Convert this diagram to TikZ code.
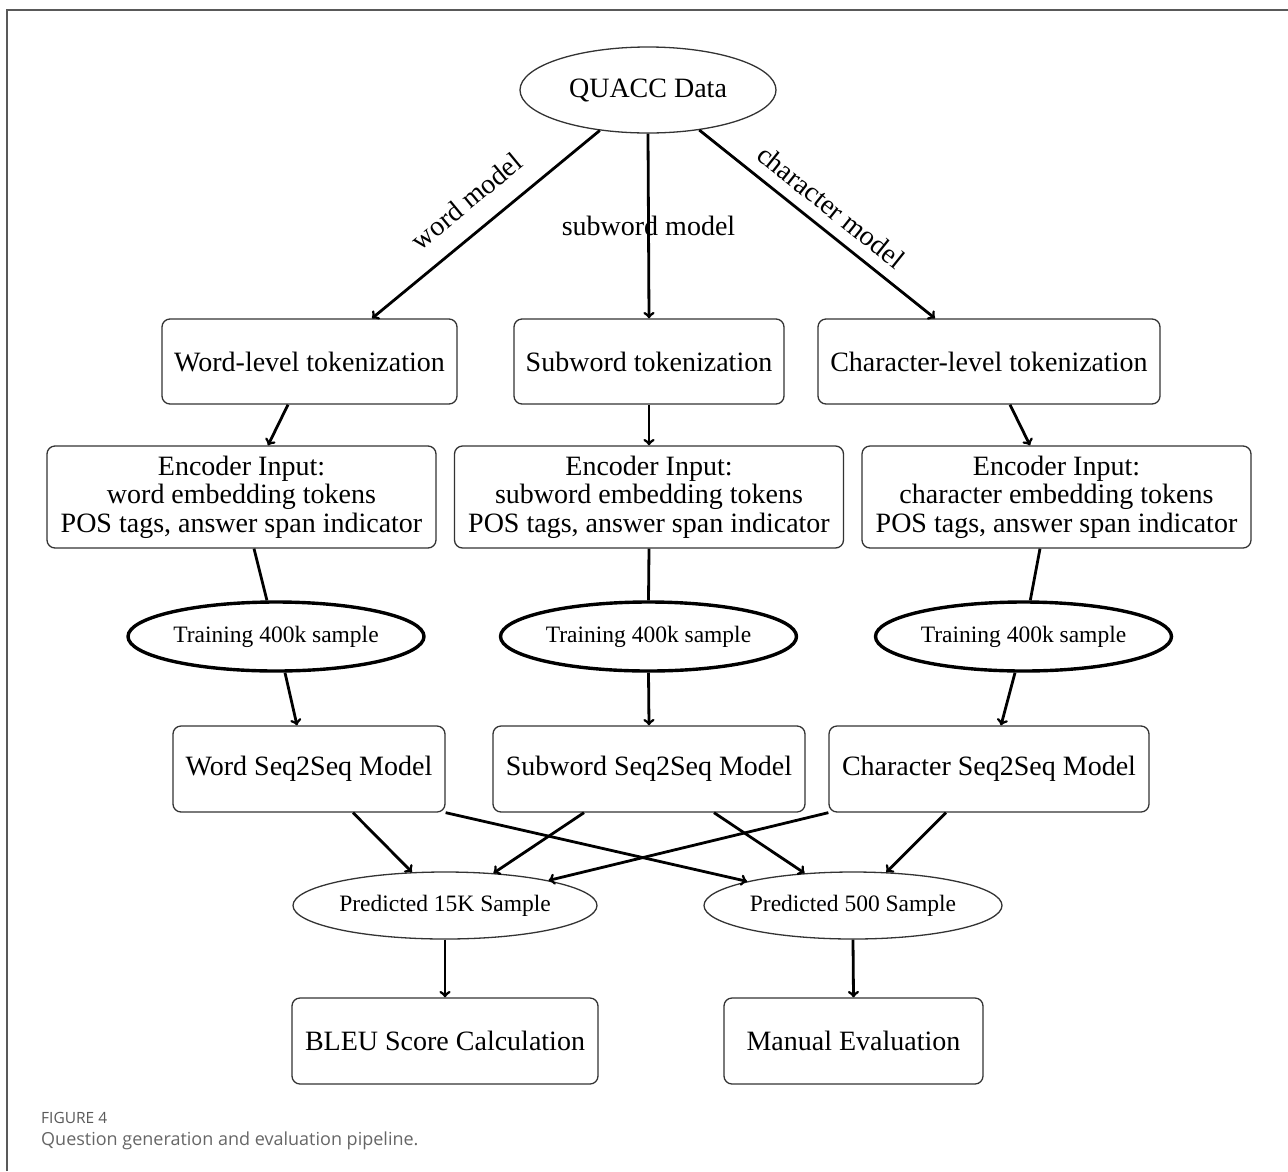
\documentclass[tikz,border=0pt]{standalone}
\usepackage{fontspec}
\setmainfont{Liberation Serif}
\newfontfamily\legendafont{Open Sans}
\usetikzlibrary{shapes.geometric}

\begin{document}
\begin{tikzpicture}[x=1pt, y=-1pt,
    caixa/.style={draw=black!80, line width=1.3pt, rounded corners=8pt, align=center, inner sep=2pt, minimum height=85pt, font=\fontsize{28}{28.5}\selectfont},
    elipse/.style={ellipse, draw=black!80, line width=1.3pt, inner sep=0pt, minimum height=67pt, font=\fontsize{23.5}{28}\selectfont},
    treino/.style={elipse, draw=black, line width=3.4pt, minimum width=296pt, minimum height=69pt},
    seta/.style={->, line width=2.8pt},
    liga/.style={line width=2.8pt},
    rotulo/.style={font=\fontsize{28}{30}\selectfont}
]
    \useasboundingbox (0,0) rectangle (1288,1171);

    % Moldura
    \draw[black!65, line width=1.4pt] (7,1171) -- (7,10) -- (1288,10);

    % Dados
    \node[elipse, minimum width=256pt, minimum height=86pt, font=\fontsize{28}{30}\selectfont] (quacc) at (648,90) {QUACC Data};

    % Tokenizacao
    \node[caixa, minimum width=295pt] (wordtok) at (309.5,361.5) {Word-level tokenization};
    \node[caixa, minimum width=270pt] (subtok) at (649,361.5) {Subword tokenization};
    \node[caixa, minimum width=342pt] (chartok) at (989,361.5) {Character-level tokenization};

    % Entrada do encoder
    \foreach \nome/\x/\tipo in {wordenc/241.5/word, subenc/649/subword, charenc/1056.5/character} {
        \node[caixa, minimum width=389pt, minimum height=102pt] (\nome) at (\x,497) {Encoder Input:\\\tipo\ embedding tokens\\POS tags, answer span indicator};
    }

    % Treinamento
    \foreach \nome/\x in {wordtrain/276, subtrain/648.5, chartrain/1023.5} {
        \node[treino] (\nome) at (\x,636.5) {Training 400k sample};
    }

    % Modelos
    \node[caixa, minimum width=272pt, minimum height=86pt] (wordseq) at (309,769) {Word Seq2Seq Model};
    \node[caixa, minimum width=312pt, minimum height=86pt] (subseq) at (649,769) {Subword Seq2Seq Model};
    \node[caixa, minimum width=320pt, minimum height=86pt] (charseq) at (989,769) {Character Seq2Seq Model};

    % Amostras preditas
    \node[elipse, minimum width=304pt] (pred15) at (445,905.5) {Predicted 15K Sample};
    \node[elipse, minimum width=298pt] (pred500) at (853,905.5) {Predicted 500 Sample};

    % Avaliacao
    \node[caixa, minimum width=306pt, minimum height=86pt] (bleu) at (445,1041) {BLEU Score Calculation};
    \node[caixa, minimum width=259pt, minimum height=86pt] (manual) at (853.5,1041) {Manual Evaluation};

    % Ramos do modelo
    \draw[seta] (quacc.-140) -- ([xshift=62.5pt]wordtok.north) node[rotulo, midway, sloped, above=16pt] {word model};
    \draw[seta] (quacc.south) -- (subtok.north) node[rotulo, midway] {subword model};
    \draw[seta] (quacc.-38) -- ([xshift=-54pt]chartok.north) node[rotulo, midway, sloped, above=8pt] {character model};

    \draw[seta] ([xshift=-21.5pt]wordtok.south) -- ([xshift=26.5pt]wordenc.north);
    \draw[seta] (subtok.south) -- (subenc.north);
    \draw[seta] ([xshift=21pt]chartok.south) -- ([xshift=-26.5pt]charenc.north);

    \draw[liga] ([xshift=12.5pt]wordenc.south) -- (wordtrain);
    \draw[liga] (subenc.south) -- (subtrain.north);
    \draw[liga] ([xshift=-16.5pt]charenc.south) -- (chartrain);

    \draw[seta] ([xshift=9pt]wordtrain.south) -- ([xshift=-12pt]wordseq.north);
    \draw[seta] (subtrain.south) -- (subseq.north);
    \draw[seta] ([xshift=-8.5pt]chartrain.south) -- ([xshift=12pt]charseq.north);

    % Cruzamentos
    \draw[seta] ([xshift=44pt]wordseq.south) -- (pred15);
    \draw[seta] (wordseq.south east) -- (pred500);
    \draw[seta] ([xshift=-65pt]subseq.south) -- (pred15);
    \draw[seta] ([xshift=65pt]subseq.south) -- (pred500);
    \draw[seta] (charseq.south west) -- (pred15);
    \draw[seta] ([xshift=-43pt]charseq.south) -- (pred500);

    \draw[seta] (pred15.south) -- (bleu.north);
    \draw[seta] (pred500.south) -- (manual.north);

    % Legenda
    \node[anchor=west, inner sep=0pt, text=black!65, font=\legendafont\fontsize{15.5}{17}\selectfont] (figura) at (41,1118) {FIGURE 4};
    \node[anchor=west, inner sep=0pt, text=black!60, font=\legendafont\fontsize{18}{21}\selectfont] (legenda) at (41,1141) {Question generation and evaluation pipeline.};
\end{tikzpicture}
\end{document}
